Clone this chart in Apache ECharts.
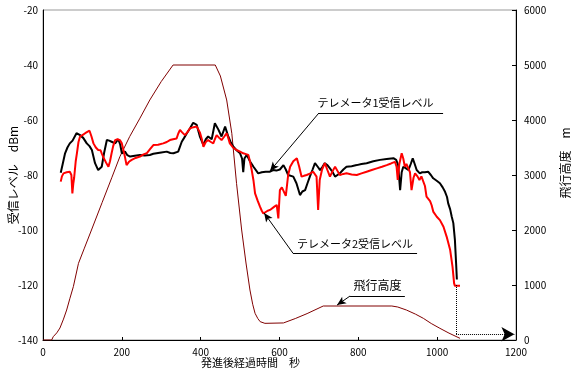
<!DOCTYPE html>
<html>
<head>
<meta charset="utf-8">
<script src="https://cdn.jsdelivr.net/npm/echarts@6/dist/echarts.min.js"></script>
<style>
  html, body { margin: 0; padding: 0; background: #fff; }
  #chart { width: 583px; height: 375px; }
</style>
</head>
<body>
<div id="chart"></div>
<script>
// テレメータ1 (black)
var tel1Time = [45, 50, 56, 62, 68, 75, 85, 94, 102, 111, 118, 124, 132, 140, 145, 149, 155, 162, 168, 174, 183, 191, 196, 200, 208, 214, 221, 233, 246, 258, 271, 280, 288, 300, 314, 323, 331, 343, 352, 358, 365, 373, 381, 390, 398, 407, 413, 419, 428, 436, 445, 453, 462, 470, 476, 483, 491, 500, 505, 508, 511, 517, 525, 534, 546, 555, 565, 576, 584, 592, 601, 610, 616, 622, 635, 643, 652, 658, 665, 671, 677, 684, 690, 697, 703, 709, 715, 722, 728, 735, 741, 747, 753, 762, 770, 783, 796, 808, 821, 838, 855, 872, 889, 896, 901, 906, 910, 914, 920, 927, 933, 938, 943, 948, 956, 962, 969, 977, 984, 990, 998, 1007, 1014, 1020, 1025, 1028, 1033, 1037, 1041, 1045, 1048, 1050];
var tel1Level = [-79.2, -76, -72.1, -70, -68.5, -67.5, -64.8, -65.5, -66.5, -68.5, -69.5, -70.9, -75.7, -78.2, -77.5, -77, -72, -67.3, -67.5, -67.9, -68.5, -67, -69, -72.1, -71.5, -72.8, -73.3, -73, -72.7, -72.9, -72.7, -72.3, -72.1, -71.8, -71.5, -72, -72.1, -71.5, -67.9, -66.5, -64.8, -63, -61, -61.8, -66, -69.1, -67, -66, -67, -61.2, -63.5, -66, -62.4, -66, -68, -69.7, -71, -72.1, -74, -79, -74, -72.7, -75, -77, -79.4, -79, -78.8, -78.8, -78.2, -78.4, -78, -76.4, -78, -80, -80.6, -83, -87.3, -86, -85.5, -83, -80.6, -78, -75.7, -77, -78.2, -77, -75.7, -76.5, -77.6, -79, -80.6, -80, -79.4, -78, -77, -76.8, -76.4, -76, -75.7, -75, -74.5, -74.2, -73.9, -74.5, -76.4, -85.5, -79, -77, -77.5, -78.2, -76, -73.9, -76, -78.2, -79.4, -79, -79, -78.8, -80, -81.2, -82, -83, -84.5, -86.1, -88, -90.3, -92.5, -95.2, -97.5, -103.6, -112, -118];

// テレメータ2 (red)
var tel2Time = [45, 48, 52, 60, 68, 72, 74.5, 77, 79, 83, 86, 90, 94, 100, 107, 112, 118, 123, 128, 134, 140, 146, 149, 153, 160, 166, 170, 174, 178, 183, 189, 195, 200, 204, 208, 212, 218, 225, 235, 246, 255, 263, 272, 280, 292, 305, 314, 322, 330, 339, 343, 347.5, 353, 360, 366, 373, 382, 390, 398, 403, 407, 413, 419, 426, 432, 436, 440.5, 447, 453, 460, 466, 470, 474, 482, 491, 500, 508, 515, 521, 525, 529.5, 534, 538, 545, 550.5, 555, 559, 563, 570, 576, 580, 587, 593, 597, 601, 606, 610, 616, 622, 627, 635, 644, 650, 656, 662, 669, 677, 685.5, 690, 694, 698, 702, 708, 715, 721, 728, 735, 741, 747, 753, 762, 770, 783, 796, 808, 821, 834, 847, 860, 872, 883, 893, 897, 900, 904, 910, 914, 918, 922, 927, 931, 935, 940, 944, 950, 955, 960, 965, 969, 973, 978, 982, 986, 990, 999, 1007, 1016, 1024, 1033, 1039, 1043, 1045, 1058];
var tel2Level = [-82.4, -80.5, -79.4, -79, -78.8, -80, -86.7, -83, -81, -75, -72.1, -68, -66, -65.5, -64.8, -64.5, -63.9, -66, -68.5, -70, -70.9, -71, -72.1, -73.5, -75.5, -77, -75, -72.1, -69.5, -67.3, -67, -67.3, -68.5, -70.9, -73.5, -76.4, -75.2, -74.5, -73.8, -73.3, -72.5, -72.1, -70.5, -69.1, -69, -68.5, -68, -67.3, -67, -66.7, -65, -63.6, -64.5, -65.5, -64.5, -63, -62.6, -62.4, -64.5, -67, -69.7, -68, -67.3, -68, -68.5, -67, -65.5, -66.5, -67.3, -66, -64.8, -66.5, -68.5, -70, -70.9, -71.5, -72.1, -72.4, -72.7, -75, -78.2, -82, -86.7, -89.5, -91.5, -93, -94, -94, -93, -92.7, -92.1, -91.5, -90.9, -95.8, -85.5, -84.5, -84.2, -87.6, -80, -77, -75, -73.9, -77, -80.6, -80.3, -80, -79.5, -78.8, -79.5, -80.6, -92.7, -81.8, -78, -75.7, -78, -80.6, -78.5, -77, -78.5, -80, -79.6, -79.4, -79.8, -80, -79.4, -78.8, -78.2, -77.6, -77, -76.4, -75.8, -75.2, -77, -81.8, -76, -72.1, -74, -77, -76, -75.7, -79, -85.5, -81, -79.4, -80.5, -81.8, -80.5, -80, -84, -87.9, -88.5, -89.5, -91, -93.3, -95.2, -96.4, -98.8, -102.4, -107.3, -113.4, -119.4, -120.3, -120.3];

// 飛行高度 (m)
var altTime = [0, 22, 26, 35, 43, 52, 60, 68, 77, 90, 105, 123, 150, 175, 195, 220, 245, 271, 300, 330, 437, 450, 466, 479, 491, 504, 515, 525, 532, 538, 545, 551, 563, 610, 640, 670, 711, 885, 900, 922, 945, 965, 985, 1007, 1030, 1058];
var altValue = [0, 0, 60, 130, 218, 380, 545, 750, 970, 1394, 1670, 2000, 2500, 2960, 3333, 3700, 4020, 4364, 4700, 5000, 5000, 4800, 4364, 3758, 2848, 2000, 1400, 909, 650, 485, 390, 333, 303, 310, 390, 480, 618, 618, 600, 545, 470, 394, 300, 212, 125, 30];

var labelTel1 = 'テレメータ1受信レベル';
var labelTel2 = 'テレメータ2受信レベル';
var labelAlt = '飛行高度';

function zip(xs, ys) {
  return xs.map(function (x, i) { return [x, ys[i]]; });
}

function plain(v) { return String(v); }

var font = '"Noto Sans CJK JP", sans-serif';
var chart = echarts.init(document.getElementById('chart'));

function seg(a, b, endSymbol, size) {
  return [
    { coord: a, symbol: 'none' },
    { coord: b, symbol: endSymbol || 'none', symbolSize: size || [6, 9] }
  ];
}

chart.setOption({
  animation: false,
  textStyle: { fontFamily: font },
  grid: {
    left: 43, right: 67, top: 10, bottom: 35,
    containLabel: false, outerBoundsMode: 'none',
    show: true, borderColor: '#999', borderWidth: 1
  },
  xAxis: {
    type: 'value', min: 0, max: 1200, interval: 200,
    name: '発進後経過時間　秒',
    nameLocation: 'middle', nameGap: 17, nameMoveOverlap: false,
    nameTextStyle: { fontSize: 11, color: '#000', padding: [0, 58, 0, 0] },
    axisLine: { lineStyle: { color: '#000' } },
    axisTick: { inside: true, length: 3, lineStyle: { color: '#000' } },
    axisLabel: { fontSize: 10, color: '#000', margin: 7, formatter: plain },
    splitLine: { show: false }
  },
  yAxis: [{
    type: 'value', min: -140, max: -20, interval: 20,
    name: '受信レベル　dBm',
    nameLocation: 'middle', nameGap: 24, nameRotate: 90, nameMoveOverlap: false,
    nameTextStyle: { fontSize: 12, color: '#000' },
    axisLine: { show: true, lineStyle: { color: '#000' } },
    axisTick: { show: false },
    axisLabel: { fontSize: 10, color: '#000', margin: 5, formatter: plain },
    splitLine: { show: false }
  }, {
    type: 'value', min: 0, max: 6000, interval: 1000,
    name: '飛行高度　m',
    nameLocation: 'middle', nameGap: 43, nameRotate: 90,
    nameTextStyle: { fontSize: 12, color: '#000', padding: [0, 0, 0, 24] },
    axisLine: { show: true, lineStyle: { color: '#000' } },
    axisTick: { inside: true, length: 4, lineStyle: { color: '#000' } },
    axisLabel: { fontSize: 10, color: '#000', margin: 8, formatter: plain },
    splitLine: { show: false }
  }],
  series: [{
    name: labelAlt,
    type: 'line',
    yAxisIndex: 1,
    data: zip(altTime, altValue),
    symbol: 'none',
    lineStyle: { color: '#800000', width: 1 }
  }, {
    name: labelTel1,
    type: 'line',
    data: zip(tel1Time, tel1Level),
    symbol: 'none',
    lineStyle: { color: '#000', width: 2 }
  }, {
    name: labelTel2,
    type: 'line',
    data: zip(tel2Time, tel2Level),
    symbol: 'none',
    lineStyle: { color: '#ff0000', width: 2 },
    markLine: {
      silent: true,
      label: { show: false },
      lineStyle: { color: '#000', width: 1, type: 'solid' },
      data: [
        seg([700, -57.45], [1015, -57.45]),
        seg([700, -57.45], [576, -78.5], 'arrow'),
        seg([634, -108.4], [949, -108.4]),
        seg([634, -108.4], [561, -93.8], 'arrow'),
        seg([779, -124], [918, -124]),
        seg([779, -124], [746, -127.3], 'arrow')
      ]
    },
    markPoint: {
      silent: true,
      symbol: 'rect',
      symbolSize: 1,
      itemStyle: { color: 'rgba(0,0,0,0)' },
      label: { show: true, position: 'inside', color: '#000', fontSize: 11, formatter: '{b}' },
      data: [
        { name: labelTel1, coord: [843.5, -53.8] },
        { name: labelTel2, coord: [791.5, -105.1] },
        { name: labelAlt, coord: [848.6, -120], label: { fontSize: 12 } }
      ]
    }
  }, {
    name: 'guide',
    type: 'line',
    data: [],
    markLine: {
      silent: true,
      label: { show: false },
      lineStyle: { color: '#000', width: 1, type: 'dotted' },
      data: [
        seg([1048, -120], [1048, -137.9]),
        seg([1048, -137.9], [1196, -137.9], 'arrow', [11, 13])
      ]
    }
  }]
});
</script>
</body>
</html>
